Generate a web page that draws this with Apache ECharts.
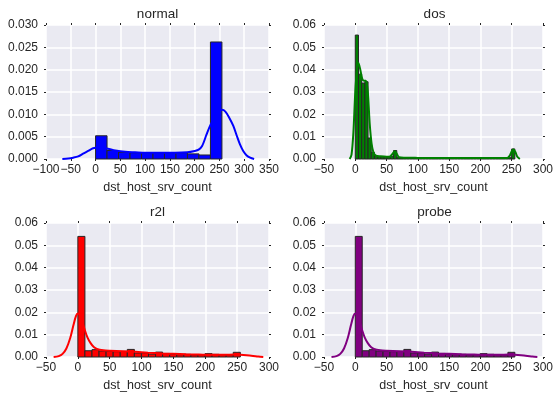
<!DOCTYPE html>
<html>
<head>
<meta charset="utf-8">
<script src="https://cdn.jsdelivr.net/npm/echarts@6/dist/echarts.min.js"></script>
<style>html,body{margin:0;padding:0;background:#fff}#c{width:556px;height:395px}</style>
</head>
<body>
<div id="c"></div>
<script>
// ---- data ----
const titles = ['normal', 'dos', 'r2l', 'probe'];
const xLabel = 'dst_host_srv_count';
const binRange = [0, 255];

const normalBins = [0.0052, 0.0019, 0.00146, 0.0014, 0.0014, 0.0014, 0.0014, 0.0014, 0.00115, 0.0009, 0.0262];
const normalKde = [[-67,0],[-55,0.0001],[-45,0.0003],[-35,0.0006],[-25,0.0012],[-15,0.0018],[-5,0.0024],[5,0.0026],[15,0.0025],[25,0.0023],[40,0.0019],[60,0.0016],[80,0.0015],[100,0.0014],[130,0.0014],[160,0.0014],[185,0.0015],[200,0.0018],[208,0.0021],[215,0.0029],[224,0.0055],[231,0.0074],[240,0.0093],[248,0.0106],[255,0.011],[262,0.0106],[270,0.0092],[278,0.0074],[285,0.0052],[291,0.0034],[298,0.0018],[305,0.0008],[312,0.0003],[320,0]];

const dosBins = [0.0555, 0.038, 0.034, 0.0346, 0.0094, 0.003, 0.0012, 0.001, 0.001, 0.0008,
  0.0008, 0.0012, 0.0038, 0.0006, 0.0005, 0.0005, 0.0004, 0.0005, 0.0004, 0.0004,
  0.0004, 0.0003, 0.0004, 0.0004, 0.0003, 0.0004, 0.0003, 0.0004, 0.0004, 0.0003,
  0.0004, 0.0003, 0.0004, 0.0003, 0.0003, 0.0004, 0.0003, 0.0004, 0.0003, 0.0003,
  0.0004, 0.0003, 0.0004, 0.0003, 0.0004, 0.0004, 0.0003, 0.0004, 0.0006, 0.0045];
const dosKde = [[-9,0],[-6,0.002],[-3,0.012],[0,0.03],[3,0.041],[5,0.043],[8,0.04],[11,0.036],[14,0.035],[17,0.035],[20,0.03],[23,0.016],[26,0.007],[29,0.003],[33,0.0015],[40,0.0012],[50,0.001],[56,0.0012],[60,0.0025],[63,0.0035],[66,0.0025],[70,0.0008],[80,0.0006],[100,0.0005],[130,0.0004],[160,0.0004],[200,0.0004],[230,0.0004],[243,0.0005],[247,0.0015],[250,0.0035],[253,0.0042],[256,0.003],[259,0.001],[263,0]];

const r2lBins = [0.054, 0.0028, 0.0033, 0.0027, 0.0025, 0.0024, 0.0025, 0.0034, 0.0018, 0.0018, 0.0013, 0.0022, 0.0016, 0.0012, 0.001, 0.0012, 0.0009, 0.001, 0.0015, 0.0012, 0.001, 0.0009, 0.0021];
const r2lKde = [[-38,0],[-30,0.0004],[-24,0.0014],[-18,0.0038],[-12,0.0085],[-7,0.0142],[-3,0.0183],[0,0.0195],[3,0.0188],[7,0.0158],[11,0.012],[15,0.0088],[20,0.0062],[25,0.0045],[30,0.0036],[40,0.003],[50,0.0028],[70,0.0026],[90,0.0023],[110,0.0019],[130,0.0016],[150,0.0014],[170,0.0012],[190,0.0011],[210,0.001],[230,0.001],[245,0.0011],[255,0.001],[265,0.0008],[275,0.0005],[283,0.0002],[291,0]];

const probeBins = [0.054, 0.0028, 0.0033, 0.0027, 0.0025, 0.0024, 0.0025, 0.0034, 0.0018, 0.0018, 0.0013, 0.0022, 0.0016, 0.0012, 0.001, 0.0012, 0.0009, 0.001, 0.0015, 0.0012, 0.001, 0.0009, 0.0021];
const probeKde = [[-38,0],[-30,0.0004],[-24,0.0014],[-18,0.0038],[-12,0.0085],[-7,0.0142],[-3,0.0183],[0,0.0195],[3,0.0188],[7,0.0158],[11,0.012],[15,0.0088],[20,0.0062],[25,0.0045],[30,0.0036],[40,0.003],[50,0.0028],[70,0.0026],[90,0.0023],[110,0.0019],[130,0.0016],[150,0.0014],[170,0.0012],[190,0.0011],[210,0.001],[230,0.001],[245,0.0011],[255,0.001],[265,0.0008],[275,0.0005],[283,0.0002],[291,0]];

const xTicks = [[-100, 350, 50], [-50, 300, 50], [-50, 300, 50], [-50, 300, 50]];
const yTicks = [[0, 0.03, 0.005, 3], [0, 0.06, 0.01, 2], [0, 0.06, 0.01, 2], [0, 0.06, 0.01, 2]];

// ---- presentation ----
const colors = ['#0000ff', '#008000', '#ff0000', '#800080'];
const binsAll = [normalBins, dosBins, r2lBins, probeBins];
const kdeAll = [normalKde, dosKde, r2lKde, probeKde];
const grids = [
  {left: 46, top: 25, width: 223, height: 134},
  {left: 324, top: 25, width: 221, height: 134},
  {left: 46, top: 223, width: 223, height: 134},
  {left: 324, top: 223, width: 221, height: 134}
];
const FONT = 'Liberation Sans';
const TXT = '#262626';

const xAxes = [], yAxes = [], series = [], titleArr = [];
grids.forEach((g, i) => {
  const [xmin, xmax, xint] = xTicks[i];
  const [ymin, ymax, yint, dec] = yTicks[i];
  const tick = {show: true, length: 2, lineStyle: {color: TXT, width: 1}};
  const noLine = {show: false, onZero: false};
  xAxes.push({
    type: 'value', gridIndex: i, min: xmin, max: xmax, interval: xint, position: 'bottom',
    axisLine: noLine, axisTick: tick,
    axisLabel: {color: TXT, fontFamily: FONT, fontSize: 12, margin: 5,
      formatter: v => String(v).replace('-', '\u2212')},
    splitLine: {show: true, lineStyle: {color: '#ffffff', width: 1.5}},
    name: xLabel, nameLocation: 'middle', nameGap: 22,
    nameTextStyle: {color: TXT, fontFamily: FONT, fontSize: 12.5}
  });
  xAxes.push({
    type: 'value', gridIndex: i, min: xmin, max: xmax, interval: xint, position: 'top',
    axisLine: noLine, axisTick: tick, axisLabel: {show: false}, splitLine: {show: false}
  });
  yAxes.push({
    type: 'value', gridIndex: i, min: ymin, max: ymax, interval: yint, position: 'left',
    axisLine: noLine, axisTick: tick,
    axisLabel: {color: TXT, fontFamily: FONT, fontSize: 12, margin: 8, formatter: v => v.toFixed(dec)},
    splitLine: {show: true, lineStyle: {color: '#ffffff', width: 1.5}}
  });
  yAxes.push({
    type: 'value', gridIndex: i, min: ymin, max: ymax, interval: yint, position: 'right',
    axisLine: noLine, axisTick: tick, axisLabel: {show: false}, splitLine: {show: false}
  });

  const bins = binsAll[i];
  const w = (binRange[1] - binRange[0]) / bins.length;
  const barData = bins.map((h, k) => [binRange[0] + k * w, binRange[0] + (k + 1) * w, h]);
  const col = colors[i];
  series.push({
    type: 'custom', xAxisIndex: 2 * i, yAxisIndex: 2 * i, z: 2, silent: true,
    data: barData, encode: {x: [0, 1], y: 2},
    renderItem: (params, api) => {
      const p0 = api.coord([api.value(0), 0]);
      const p1 = api.coord([api.value(1), api.value(2)]);
      return {type: 'rect', shape: {x: p0[0], y: p1[1], width: p1[0] - p0[0], height: p0[1] - p1[1]},
        style: {fill: col, stroke: '#262626', lineWidth: 1}};
    }
  });
  series.push({
    type: 'line', xAxisIndex: 2 * i, yAxisIndex: 2 * i, z: 3, silent: true,
    data: kdeAll[i], showSymbol: false, smooth: 0.3,
    lineStyle: {color: col, width: 2}
  });
  titleArr.push({
    text: titles[i], left: g.left + g.width / 2, top: g.top - 18, textAlign: 'center', padding: 0,
    textStyle: {color: TXT, fontFamily: FONT, fontSize: 13.5, fontWeight: 'normal'}
  });
});

const chart = echarts.init(document.getElementById('c'), null, {renderer: 'canvas'});
chart.setOption({
  animation: false,
  backgroundColor: '#ffffff',
  title: titleArr,
  grid: grids.map(g => Object.assign({backgroundColor: '#eaeaf2', show: true, borderWidth: 0}, g)),
  xAxis: xAxes,
  yAxis: yAxes,
  series: series
});
</script>
</body>
</html>
